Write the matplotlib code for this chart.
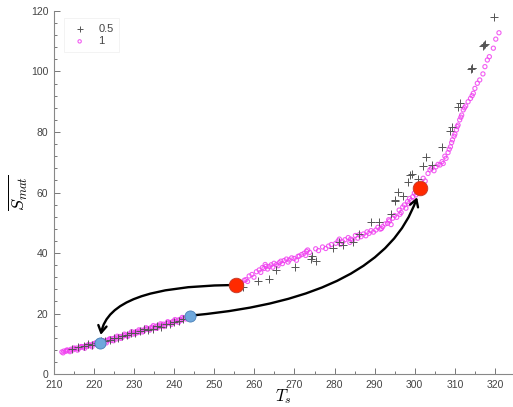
import numpy as np
import matplotlib
matplotlib.use('Agg')
import matplotlib.pyplot as plt
from matplotlib.patches import FancyArrowPatch
from matplotlib.ticker import MultipleLocator

plt.rcParams['font.family'] = ['Liberation Sans', 'DejaVu Sans']
plt.rcParams['mathtext.fontset'] = 'cm'

# series "1" (magenta circles)
t_one = [212.0, 212.5, 213.0, 213.4, 213.9, 214.3, 214.8, 215.2, 215.7, 216.1,
         216.6, 217.0, 217.5, 217.9, 218.4, 218.8, 219.3, 219.7, 220.2, 220.6,
         221.1, 221.6, 222.0, 222.5, 222.9, 223.4, 223.8, 224.3, 224.7, 225.2,
         225.6, 226.1, 226.5, 227.0, 227.4, 227.9, 228.3, 228.8, 229.2, 229.7,
         230.1, 230.6, 231.0, 231.5, 231.9, 232.4, 232.8, 233.3, 233.7, 234.2,
         234.6, 235.1, 235.5, 236.0, 236.4, 236.9, 237.3, 237.8, 238.2, 238.7,
         239.1, 239.6, 240.0, 240.5, 240.9, 241.4, 241.8, 242.3, 242.7, 243.2,
         243.6,
         212.3, 213.2, 214.0, 215.0, 215.9, 216.8, 217.7, 218.6, 219.5, 220.4,
         221.3, 222.2, 223.1, 224.0, 224.9, 225.8, 226.7, 227.6, 228.5, 229.4,
         230.3, 231.2, 232.1, 233.0, 233.9, 234.8, 235.7, 236.6, 237.5, 238.4,
         239.3, 240.2, 241.1, 242.0, 242.9,
         256.8, 257.5, 257.9, 258.3, 258.7, 259.4, 259.9, 260.5, 261.2, 261.6,
         262.0, 262.4, 262.9, 263.3, 263.7, 264.2, 264.6, 264.9, 265.5, 266.2,
         266.6, 267.0, 267.4, 268.0, 268.7, 269.3, 269.9, 270.5, 271.2, 271.8,
         272.4, 273.0, 273.3, 273.8, 275.3, 276.0, 277.0, 277.8, 278.5, 279.2,
         280.3, 280.9, 281.5, 282.0, 282.6, 283.4, 284.0, 284.5, 285.2, 285.8,
         286.6, 287.2, 287.8, 288.6, 289.1, 289.7, 290.3, 290.8, 291.4, 292.0,
         292.6, 293.2, 293.7, 294.1, 294.5, 295.0, 295.5, 296.1, 296.6, 297.0,
         297.4, 297.8, 298.2, 298.7, 299.1, 299.5, 299.9, 300.3,
         262.7, 265.9, 268.4, 270.9, 272.8, 281.2, 283.8, 286.2, 288.1, 291.7,
         293.5, 296.3, 298.5,
         301.0, 301.6, 302.1, 302.6, 303.3, 303.8, 304.2, 304.8, 305.3, 305.8,
         306.3, 306.8, 307.1, 307.5, 307.8, 308.3, 308.6, 308.9, 309.2, 309.4,
         309.8, 310.0, 310.4, 310.6, 310.8, 311.2, 311.5, 311.7, 312.1, 312.4,
         312.7, 313.3, 313.9, 314.3, 314.6, 315.0, 315.6, 316.2, 317.0, 317.5,
         318.1, 318.6, 319.6, 320.2, 321.0]
s_one = [7.3, 7.6, 7.5, 7.9, 7.8, 8.2, 8.0, 8.4, 8.6, 8.3,
         8.8, 9.0, 8.9, 9.3, 9.2, 9.6, 9.5, 9.9, 10.0, 9.8,
         10.3, 10.5, 10.4, 10.9, 10.7, 11.2, 11.4, 11.1, 11.7, 11.9,
         11.6, 12.2, 12.4, 12.1, 12.7, 12.9, 12.6, 13.2, 13.5, 13.2,
         13.8, 14.0, 13.7, 14.3, 14.5, 14.2, 14.8, 15.0, 14.7, 15.3,
         15.5, 15.2, 15.8, 16.0, 15.7, 16.3, 16.5, 16.2, 16.8, 17.0,
         16.8, 17.3, 17.5, 17.3, 17.8, 18.0, 17.8, 18.4, 18.6, 18.9,
         19.2,
         7.0, 7.9, 7.4, 8.6, 7.9, 9.1, 8.5, 9.7, 9.0, 10.3,
         9.7, 11.0, 10.3, 11.7, 11.0, 12.5, 11.8, 13.2, 12.5, 14.0,
         13.3, 14.6, 13.9, 15.3, 14.5, 16.0, 15.1, 16.6, 15.7, 17.3,
         16.4, 18.0, 17.1, 18.7, 18.2,
         30.2, 31.0, 31.2, 30.6, 32.4, 32.9, 32.0, 33.8, 34.4, 33.6,
         35.2, 34.9, 35.6, 34.7, 35.5, 36.1, 35.3, 36.6, 36.2, 36.8,
         37.3, 36.5, 37.5, 38.0, 37.7, 38.4, 38.2, 37.6, 39.0, 39.5,
         39.9, 40.6, 41.0, 40.2, 41.4, 40.8, 42.0, 41.5, 42.3, 42.8,
         43.2, 44.0, 42.9, 43.7, 44.4, 45.1, 44.6, 44.3, 45.8, 44.9,
         45.4, 46.3, 45.7, 46.5, 47.4, 46.9, 47.6, 48.5, 47.9, 48.7,
         49.6, 49.8, 50.6, 49.4, 51.5, 52.4, 51.8, 54.2, 53.4, 55.2,
         55.9, 54.8, 57.0, 58.0, 57.4, 58.6, 59.8, 59.2,
         36.2, 35.8, 37.0, 38.9, 39.2, 44.6, 43.5, 46.1, 47.0, 48.1,
         51.0, 52.8, 56.3,
         61.0, 62.5, 64.7, 63.8, 66.3, 67.5, 68.0, 67.2, 68.5, 69.3,
         69.1, 70.2, 69.6, 72.0, 71.3, 73.2, 74.3, 75.1, 76.5, 77.4,
         78.6, 79.3, 80.7, 81.8, 82.3, 84.0, 84.9, 85.6, 87.3, 88.0,
         88.6, 90.0, 91.1, 92.0, 92.8, 94.4, 96.1, 97.2, 99.2, 101.6,
         103.8, 104.9, 107.7, 110.7, 112.8]

# series "0.5" (gray plus)
t_half = [214.5, 216.0, 217.4, 218.5, 219.6, 220.7, 221.8, 222.8, 223.9, 225.0,
          226.0, 227.1, 228.2, 229.3, 230.3, 231.4, 232.5, 233.6, 234.6, 235.7,
          236.8, 237.9, 238.9, 240.0, 241.1, 242.1,
          257.2, 260.8, 263.7, 265.4, 270.2, 274.1, 275.3, 274.3, 279.5, 281.1,
          282.0, 284.5, 286.1, 289.0, 291.0, 294.0, 295.0, 295.1, 295.9, 297.0,
          298.4, 298.9, 299.2, 300.7, 302.1, 302.9, 304.2, 306.7, 308.8, 309.2,
          310.8, 311.2, 314.0, 314.2, 314.4, 317.0, 317.2, 317.4, 319.7]
s_half = [8.3, 8.9, 9.2, 9.8, 9.7, 10.2, 10.8, 11.0, 11.3, 11.9,
          12.0, 12.6, 12.9, 13.4, 13.6, 14.1, 14.8, 14.6, 15.0, 15.9,
          15.6, 16.4, 16.5, 17.1, 17.4, 18.1,
          28.9, 30.8, 31.3, 34.4, 35.3, 37.9, 37.5, 39.0, 41.5, 43.7,
          42.5, 43.7, 46.3, 50.3, 50.3, 52.9, 57.5, 57.3, 60.3, 58.8,
          63.6, 65.8, 66.1, 64.4, 68.8, 71.6, 69.1, 74.9, 80.3, 81.8,
          88.2, 89.7, 100.8, 101.0, 101.3, 108.5, 108.8, 109.1, 117.9]

# highlighted states
red_t = [255.4, 301.3]
red_s = [29.4, 61.5]
blue_t = [221.5, 243.9]
blue_s = [10.2, 19.3]

fig = plt.figure(figsize=(5.13, 4.07), dpi=100)
ax = fig.add_axes([0.105, 0.081, 0.895, 0.892])

h1 = ax.scatter(t_one, s_one, s=9, facecolors='none', edgecolors='#f040f0',
                linewidths=0.8, alpha=0.85, label='1', zorder=2)
h05 = ax.scatter(t_half, s_half, s=30, marker='+', color='#555555',
                 linewidths=0.7, label='0.5', zorder=3)

# arrows between the states
arr1 = FancyArrowPatch((red_t[0], red_s[0]), (blue_t[0], blue_s[0]),
                       connectionstyle='angle3,angleA=180,angleB=90',
                       arrowstyle='->,head_length=5,head_width=3',
                       color='black', lw=1.7, shrinkA=5, shrinkB=6, zorder=4)
arr2 = FancyArrowPatch((blue_t[1], blue_s[1]), (red_t[1], red_s[1]),
                       connectionstyle='angle3,angleA=5,angleB=75',
                       arrowstyle='->,head_length=5,head_width=3',
                       color='black', lw=1.7, shrinkA=4, shrinkB=7, zorder=4)
ax.add_patch(arr1)
ax.add_patch(arr2)

ax.plot(red_t, red_s, 'o', ms=10.5, color='#ff2a00', mec='#c0392b', mew=0.6, zorder=5)
ax.plot(blue_t, blue_s, 'o', ms=8, color='#6fa8dc', mec='#4a80b8', mew=0.6, zorder=5)

ax.set_xlim(210, 324.5)
ax.set_ylim(0, 120)
ax.xaxis.set_major_locator(MultipleLocator(10))
ax.xaxis.set_minor_locator(MultipleLocator(5))
ax.yaxis.set_major_locator(MultipleLocator(20))
ax.yaxis.set_minor_locator(MultipleLocator(4))
ax.tick_params(which='both', direction='in', colors='#777777', labelcolor='#444444',
               labelsize=7.5, width=0.7)
ax.tick_params(which='major', length=4)
ax.tick_params(which='minor', length=2)
ax.tick_params(axis='x', which='major', pad=4)
ax.tick_params(axis='y', which='major', pad=4)
for side in ['top', 'right']:
    ax.spines[side].set_visible(False)
for side in ['left', 'bottom']:
    ax.spines[side].set_color('#888888')
    ax.spines[side].set_linewidth(0.8)

ax.set_xlabel('$T_s$', fontsize=12, labelpad=-1.5)
ax.set_ylabel(r'$\overline{S_{mat}}$', fontsize=13, labelpad=1)

leg = ax.legend([h05, h1], ['0.5', '1'], loc='upper left',
                bbox_to_anchor=(0.015, 0.99), fontsize=8, markerscale=0.8,
                frameon=True, fancybox=False, edgecolor='#eeeeee',
                handletextpad=0.8, handlelength=1.8, borderpad=0.5,
                labelspacing=0.25, borderaxespad=0.3)
leg.get_frame().set_linewidth(0.6)
for txt in leg.get_texts():
    txt.set_color('#444444')

fig.savefig('out.png', dpi=100)
